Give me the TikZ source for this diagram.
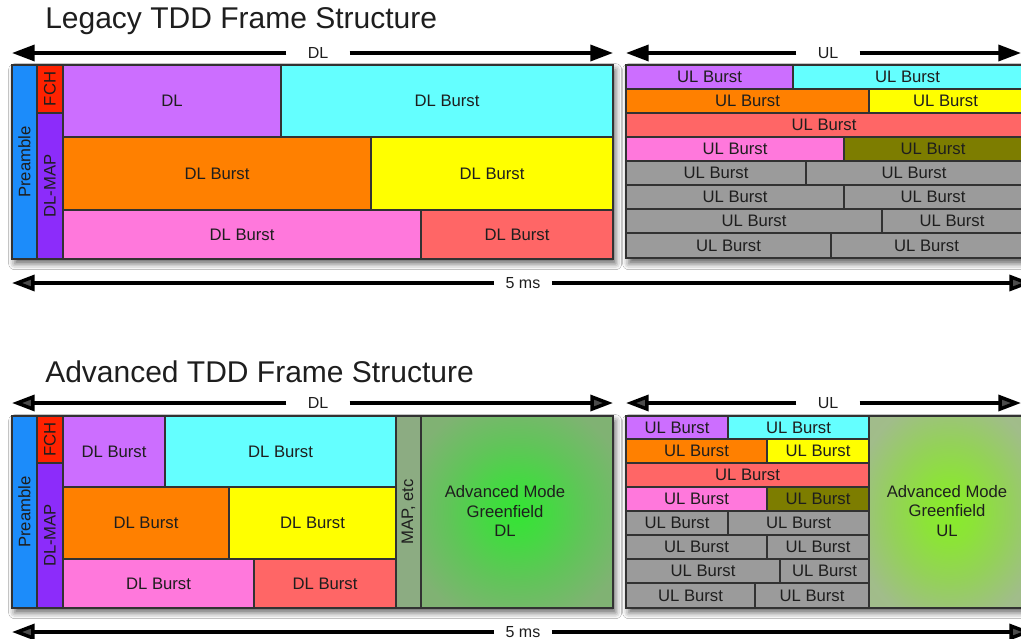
\documentclass[tikz,border=0pt]{standalone}
\usepackage{fontspec}
\setmainfont{Liberation Sans}
\usetikzlibrary{arrows.meta,shadows.blur}
\definecolor{cPre}{RGB}{28,140,250}
\definecolor{cFch}{RGB}{255,34,0}
\definecolor{cMap}{RGB}{140,44,250}
\definecolor{cPur}{RGB}{204,110,255}
\definecolor{cCya}{RGB}{100,255,255}
\definecolor{cOra}{RGB}{255,128,0}
\definecolor{cYel}{RGB}{255,255,0}
\definecolor{cPin}{RGB}{255,120,220}
\definecolor{cSal}{RGB}{255,102,102}
\definecolor{cOli}{RGB}{125,125,0}
\definecolor{cGry}{RGB}{155,155,155}
\definecolor{cMapEtc}{RGB}{140,172,130}
\definecolor{cBdr}{RGB}{50,50,50}
\definecolor{cTxt}{RGB}{30,30,30}
\pgfdeclareradialshading{gfdl}{\pgfpoint{0bp}{0bp}}{%
  rgb(0bp)=(0.2,0.9,0.2);
  rgb(8bp)=(0.27,0.85,0.26);
  rgb(18bp)=(0.38,0.77,0.35);
  rgb(30bp)=(0.5,0.7,0.45);
  rgb(72bp)=(0.53,0.68,0.48)}
\pgfdeclareradialshading{gful}{\pgfpoint{0bp}{0bp}}{%
  rgb(0bp)=(0.53,0.93,0.16);
  rgb(8bp)=(0.55,0.89,0.22);
  rgb(18bp)=(0.58,0.82,0.35);
  rgb(30bp)=(0.63,0.74,0.54);
  rgb(72bp)=(0.65,0.71,0.6)}
\newcommand\cellbox[7]{%
  \node[cellbox,fill=#6,minimum width={(#4-#2)*0.75pt},minimum height={(#5-#3)*0.75pt}] (#1) at ({(#2+#4)/2},{(#3+#5)/2}) {#7};}
\tikzset{
  cellbox/.style={draw=cBdr,line width=0.9pt,inner sep=0pt,outer sep=0pt,text=cTxt,
    font=\fontsize{12.5}{14.5}\selectfont,align=center},
  rotlab/.style={rotate=90,text=cTxt,font=\fontsize{12.5}{14.5}\selectfont,inner sep=0pt},
  titletext/.style={anchor=west,text=cTxt,font=\fontsize{22.5}{26}\selectfont,inner sep=0pt},
  arrlab/.style={text=cTxt,font=\fontsize{12}{14}\selectfont,inner sep=0pt,minimum height=10pt,inner xsep=0pt},
  arr/.style={line width=2.6pt,-{Triangle[length=17pt,width=12pt]}},
  frameshadow/.style={fill=white,blur shadow={shadow xshift=2pt,shadow yshift=-3.5pt,shadow blur radius=4.5pt,shadow opacity=60}},
}
\begin{document}
\begin{tikzpicture}[x=0.75pt,y=-0.75pt]
\useasboundingbox[fill=white] (0,0) rectangle (1021,639);

% ---------------- Legacy ----------------
\node[titletext] (t1) at (45,21) {Legacy TDD Frame Structure};

\coordinate (dl1L) at (12,53); \coordinate (dl1R) at (613,53);
\node[arrlab,minimum width=47pt] (dl1) at (318,53) {DL};
\draw[arr] (dl1.west) -- (dl1L);
\draw[arr] (dl1.east) -- (dl1R);
\coordinate (ul1L) at (626,53); \coordinate (ul1R) at (1021,53);
\node[arrlab,minimum width=47pt] (ul1) at (828,53) {UL};
\draw[arr] (ul1.west) -- (ul1L);
\draw[arr] (ul1.east) -- (ul1R);

\path[frameshadow] (12,65) rectangle (613,259);
\path[frameshadow] (626,65) rectangle (1030,259);

\cellbox{pre1}{12}{65}{37}{259}{cPre}{}
\node[rotlab] at (pre1) {Preamble};
\cellbox{fch1}{37}{65}{63}{113}{cFch}{}
\node[rotlab] at (fch1) {FCH};
\cellbox{map1}{37}{113}{63}{259}{cMap}{}
\node[rotlab] at (map1) {DL-MAP};
\cellbox{a1}{63}{65}{281}{137}{cPur}{DL}
\cellbox{a2}{281}{65}{613}{137}{cCya}{DL Burst}
\cellbox{a3}{63}{137}{371}{210}{cOra}{DL Burst}
\cellbox{a4}{371}{137}{613}{210}{cYel}{DL Burst}
\cellbox{a5}{63}{210}{421}{259}{cPin}{DL Burst}
\cellbox{a6}{421}{210}{613}{259}{cSal}{DL Burst}

\cellbox{u11}{626}{65}{793}{89}{cPur}{UL Burst}
\cellbox{u12}{793}{65}{1030}{89}{cCya}{\hspace*{-6pt}UL Burst}
\cellbox{u21}{626}{89}{869}{113}{cOra}{UL Burst}
\cellbox{u22}{869}{89}{1030}{113}{cYel}{\hspace*{-6pt}UL Burst}
\cellbox{u31}{626}{113}{1030}{137}{cSal}{\hspace*{-6pt}UL Burst}
\cellbox{u41}{626}{137}{844}{161}{cPin}{UL Burst}
\cellbox{u42}{844}{137}{1030}{161}{cOli}{\hspace*{-6pt}UL Burst}
\cellbox{u51}{626}{161}{806}{185}{cGry}{UL Burst}
\cellbox{u52}{806}{161}{1030}{185}{cGry}{\hspace*{-6pt}UL Burst}
\cellbox{u61}{626}{185}{844}{209}{cGry}{UL Burst}
\cellbox{u62}{844}{185}{1030}{209}{cGry}{\hspace*{-6pt}UL Burst}
\cellbox{u71}{626}{209}{882}{233}{cGry}{UL Burst}
\cellbox{u72}{882}{209}{1030}{233}{cGry}{\hspace*{-6pt}UL Burst}
\cellbox{u81}{626}{233}{831}{258}{cGry}{UL Burst}
\cellbox{u82}{831}{233}{1030}{258}{cGry}{\hspace*{-6pt}UL Burst}

\coordinate (ms1L) at (12,283); \coordinate (ms1R) at (1032,283);
\node[arrlab,minimum width=43pt] (ms1) at (523,283) {5 ms};
\draw[arr] (ms1.west) -- (ms1L);
\draw[arr] (ms1.east) -- (ms1R);

% ---------------- Advanced ----------------
\node[titletext] (t2) at (45,372) {Advanced TDD Frame Structure};

\coordinate (dl2L) at (12,403); \coordinate (dl2R) at (613,403);
\node[arrlab,minimum width=47pt] (dl2) at (318,403) {DL};
\draw[arr] (dl2.west) -- (dl2L);
\draw[arr] (dl2.east) -- (dl2R);
\coordinate (ul2L) at (626,403); \coordinate (ul2R) at (1021,403);
\node[arrlab,minimum width=47pt] (ul2) at (828,403) {UL};
\draw[arr] (ul2.west) -- (ul2L);
\draw[arr] (ul2.east) -- (ul2R);

\path[frameshadow] (12,416) rectangle (613,608);
\path[frameshadow] (626,416) rectangle (1030,608);

\cellbox{pre2}{12}{416}{37}{608}{cPre}{}
\node[rotlab] at (pre2) {Preamble};
\cellbox{fch2}{37}{416}{63}{463}{cFch}{}
\node[rotlab] at (fch2) {FCH};
\cellbox{map2}{37}{463}{63}{608}{cMap}{}
\node[rotlab] at (map2) {DL-MAP};
\cellbox{b1}{63}{416}{165}{487}{cPur}{DL Burst}
\cellbox{b2}{165}{416}{396}{487}{cCya}{DL Burst}
\cellbox{b3}{63}{487}{229}{559}{cOra}{DL Burst}
\cellbox{b4}{229}{487}{396}{559}{cYel}{DL Burst}
\cellbox{b5}{63}{559}{254}{608}{cPin}{DL Burst}
\cellbox{b6}{254}{559}{396}{608}{cSal}{DL Burst}
\cellbox{mapetc}{396}{416}{421}{608}{cMapEtc}{}
\node[rotlab] at (mapetc) {MAP, etc};
\node[cellbox,fill=none,shading=gfdl,
  minimum width={192*0.75pt},minimum height={192*0.75pt}] (gdl) at (517,512) {};
\node[cellbox,draw=none] at (505,511) {Advanced Mode\\Greenfield\\DL};

\cellbox{v11}{626}{416}{728}{439}{cPur}{UL Burst}
\cellbox{v12}{728}{416}{869}{439}{cCya}{UL Burst}
\cellbox{v21}{626}{439}{767}{463}{cOra}{UL Burst}
\cellbox{v22}{767}{439}{869}{463}{cYel}{UL Burst}
\cellbox{v31}{626}{463}{869}{487}{cSal}{UL Burst}
\cellbox{v41}{626}{487}{767}{511}{cPin}{UL Burst}
\cellbox{v42}{767}{487}{869}{511}{cOli}{UL Burst}
\cellbox{v51}{626}{511}{728}{535}{cGry}{UL Burst}
\cellbox{v52}{728}{511}{869}{535}{cGry}{UL Burst}
\cellbox{v61}{626}{535}{767}{559}{cGry}{UL Burst}
\cellbox{v62}{767}{535}{869}{559}{cGry}{UL Burst}
\cellbox{v71}{626}{559}{780}{583}{cGry}{UL Burst}
\cellbox{v72}{780}{559}{869}{583}{cGry}{UL Burst}
\cellbox{v81}{626}{583}{755}{608}{cGry}{UL Burst}
\cellbox{v82}{755}{583}{869}{608}{cGry}{UL Burst}
\node[cellbox,fill=none,shading=gful,
  minimum width={161*0.75pt},minimum height={192*0.75pt}] (gul) at (949.5,512) {};
\node[cellbox,draw=none] at (947,511) {Advanced Mode\\Greenfield\\UL};

\coordinate (ms2L) at (12,632); \coordinate (ms2R) at (1032,632);
\node[arrlab,minimum width=43pt] (ms2) at (523,632) {5 ms};
\draw[arr] (ms2.west) -- (ms2L);
\draw[arr] (ms2.east) -- (ms2R);
\end{tikzpicture}
\end{document}
